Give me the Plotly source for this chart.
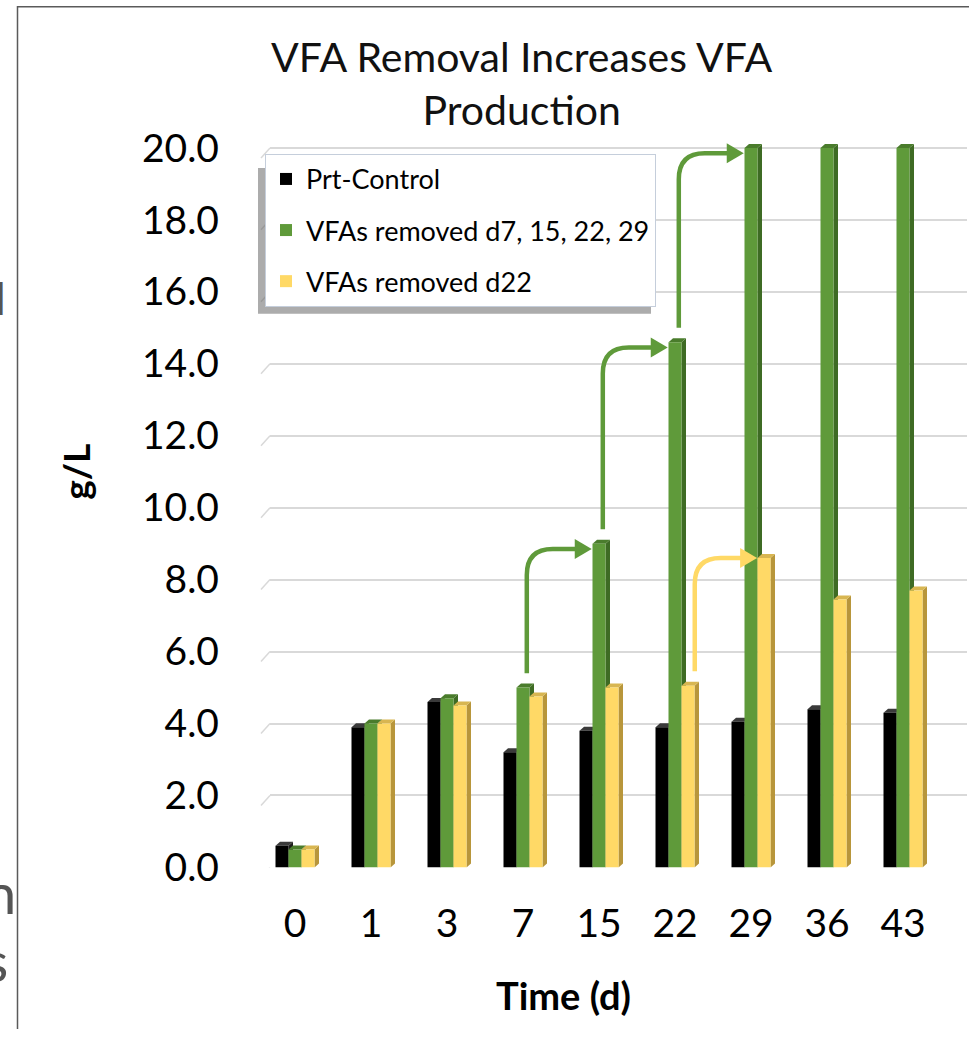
import plotly.graph_objects as go

# ---------------- data ----------------
days = ["0", "1", "3", "7", "15", "22", "29", "36", "43"]
prt_control = [0.6, 3.9, 4.6, 3.2, 3.8, 3.9, 4.05, 4.4, 4.3]
vfa_removed_multi = [0.5, 4.0, 4.7, 5.0, 9.0, 14.6, 20.0, 20.0, 20.0]
vfa_removed_d22 = [0.5, 4.0, 4.5, 4.75, 5.0, 5.05, 8.6, 7.45, 7.7]
series_names = ["Prt-Control", "VFAs removed d7, 15, 22, 29", "VFAs removed d22"]
y_ticks = [0, 2, 4, 6, 8, 10, 12, 14, 16, 18, 20]

# ---------------- style ----------------
W, H = 969, 1051
FONT = "Lato, 'Open Sans', sans-serif"
front = ["#000000", "#5F9A3A", "#FFD966"]
side = ["#1c1c1c", "#3E6B24", "#B8963B"]
top = ["#3a3a3a", "#4A7C2C", "#D8B651"]


def ypx(t):
    """target screen pixel (from top) -> layout pixel (from top)"""
    return (t - 6.0) / 0.974


def py(t):
    """target screen pixel (from top) -> paper fraction"""
    return 1 - ypx(t) / H


PX_X = 76.0   # pixels per category
PX_Y = 36.0   # screen pixels per g/L
X0_PX = 295.0  # pixel of first category center

x_dom = [270 / W, 967 / W]
x_rng = [(270 - X0_PX) / PX_X, (967 - X0_PX) / PX_X]
y_rng = [0, 20.5]
y0_l = ypx(868)
y20_l = ypx(148)
unit_l = (y0_l - y20_l) / 20.0
y_dom = [1 - y0_l / H, 1 - (y0_l - y_rng[1] * unit_l) / H]

BAR_W = 13.0 / PX_X
DX = 4.5 / PX_X
DY = 4.0 / PX_Y

xs = list(range(len(days)))
all_series = [prt_control, vfa_removed_multi, vfa_removed_d22]

fig = go.Figure()
shapes = []
for k, (name, vals) in enumerate(zip(series_names, all_series)):
    off = -1.5 * BAR_W + k * BAR_W
    fig.add_trace(go.Bar(
        x=xs, y=vals, name=name, width=BAR_W, offset=off,
        marker=dict(color=front[k], line=dict(width=0)),
        legendgroup=name,
    ))
    # 3D side and top faces derived from the data values
    for xi, v in zip(xs, vals):
        xl = xi + off
        xr = xl + BAR_W
        shapes.append(dict(
            type="path", xref="x", yref="y", layer="between",
            path=f"M{xr},0 L{xr+DX},{DY} L{xr+DX},{v+DY} L{xr},{v} Z",
            fillcolor=side[k], line=dict(width=0)))
        shapes.append(dict(
            type="path", xref="x", yref="y", layer="between",
            path=f"M{xl},{v} L{xl+DX},{v+DY} L{xr+DX},{v+DY} L{xr},{v} Z",
            fillcolor=top[k], line=dict(width=0)))

# perspective stubs at the left end of gridlines
for t in y_ticks:
    shapes.append(dict(type="line", xref="paper", yref="y",
                       x0=261 / W, x1=270 / W, y0=t - 10 / PX_Y, y1=t,
                       line=dict(color="#D9D9D9", width=1.5), layer="below"))


# curved arrows
def arrow(x_v, y_start, y_h, x_tip, color):
    rx, ry = 26 / PX_X, 26 / PX_Y
    ah_len, ah_half = 17 / PX_X, 10 / PX_Y
    line_end = x_tip - ah_len + 2 / PX_X
    shapes.append(dict(
        type="path", xref="x", yref="y", layer="above",
        path=(f"M{x_v},{y_start} L{x_v},{y_h - ry} "
              f"Q{x_v},{y_h} {x_v + rx},{y_h} L{line_end},{y_h}"),
        line=dict(color=color, width=4.5)))
    shapes.append(dict(
        type="path", xref="x", yref="y", layer="above",
        path=(f"M{x_tip},{y_h} L{x_tip - ah_len},{y_h + ah_half} "
              f"L{x_tip - ah_len},{y_h - ah_half} Z"),
        fillcolor=color, line=dict(width=0)))


green_arrow = "#5F9A3A"
yellow_arrow = "#FFD966"
for i in (3, 4, 5):
    arrow(i + 0.05, vfa_removed_multi[i] + 0.4, vfa_removed_multi[i + 1] - 0.15,
          i + 1 - BAR_W / 2 - 0.01, green_arrow)
arrow(5 + 0.26, vfa_removed_d22[5] + 0.4, vfa_removed_d22[6],
      6 + BAR_W / 2 - 0.005, yellow_arrow)

# legend shadow
shapes.append(dict(type="rect", xref="paper", yref="paper",
                   x0=258 / W, x1=651 / W, y0=py(314), y1=py(168),
                   fillcolor="rgba(90,90,90,0.5)", line=dict(width=0), layer="above"))

# outer slide frame
shapes.append(dict(type="line", xref="paper", yref="paper", x0=17.5 / W, x1=17.5 / W,
                   y0=0, y1=1, line=dict(color="#5a5a5a", width=1.5), layer="above"))
shapes.append(dict(type="line", xref="paper", yref="paper", x0=17.5 / W, x1=1,
                   y0=1 - 0.8 / H, y1=1 - 0.8 / H, line=dict(color="#5a5a5a", width=1.5),
                   layer="above"))

annotations = [
    dict(text="VFA Removal Increases VFA<br>Production", x=522 / W, y=1 - 79 / H,
         xref="paper", yref="paper", xanchor="center", yanchor="middle",
         showarrow=False, font=dict(family=FONT, size=41, color="#111111")),
    dict(text="<b>g/L</b>", x=76 / W, y=py(472), xref="paper", yref="paper",
         xanchor="center", yanchor="middle", textangle=-90, showarrow=False,
         font=dict(family=FONT, size=37, color="#000000")),
    dict(text="<b>Time (d)</b>", x=563 / W, y=py(996), xref="paper", yref="paper",
         xanchor="center", yanchor="middle", showarrow=False,
         font=dict(family=FONT, size=38, color="#000000")),
    # cut-off slide text at the left edge
    dict(text="d", x=8 / W, y=py(298), xref="paper", yref="paper",
         xanchor="right", yanchor="middle", showarrow=False,
         font=dict(family=FONT, size=44, color="#555555")),
    dict(text="n", x=18 / W, y=py(893), xref="paper", yref="paper",
         xanchor="right", yanchor="middle", showarrow=False,
         font=dict(family=FONT, size=56, color="#555555")),
    dict(text="s", x=10 / W, y=py(961), xref="paper", yref="paper",
         xanchor="right", yanchor="middle", showarrow=False,
         font=dict(family=FONT, size=56, color="#555555")),
]

fig.update_layout(
    width=W, height=H, autosize=False,
    margin=dict(l=0, r=0, t=0, b=0),
    paper_bgcolor="white", plot_bgcolor="white",
    barmode="overlay",
    showlegend=True,
    legend=dict(x=265 / W, y=py(154), xanchor="left", yanchor="top",
                bgcolor="white", bordercolor="#C5CEDB", borderwidth=1,
                font=dict(family=FONT, size=27, color="#000000"),
                traceorder="grouped", tracegroupgap=13, itemwidth=30),
    xaxis=dict(domain=x_dom, range=x_rng, tickmode="array", tickvals=xs, ticktext=days,
               showgrid=False, zeroline=False, showline=False, ticks="",
               tickfont=dict(family=FONT, size=39, color="#000000"),
               ticklabelstandoff=30),
    yaxis=dict(domain=y_dom, range=y_rng, tickmode="array", tickvals=y_ticks,
               tickformat=".1f", showgrid=True, gridcolor="#D9D9D9", gridwidth=1.5,
               zeroline=False, showline=False, ticks="",
               tickfont=dict(family=FONT, size=39, color="#000000"),
               ticklabelstandoff=50),
    shapes=shapes,
    annotations=annotations,
)

fig.write_html("out.html")
